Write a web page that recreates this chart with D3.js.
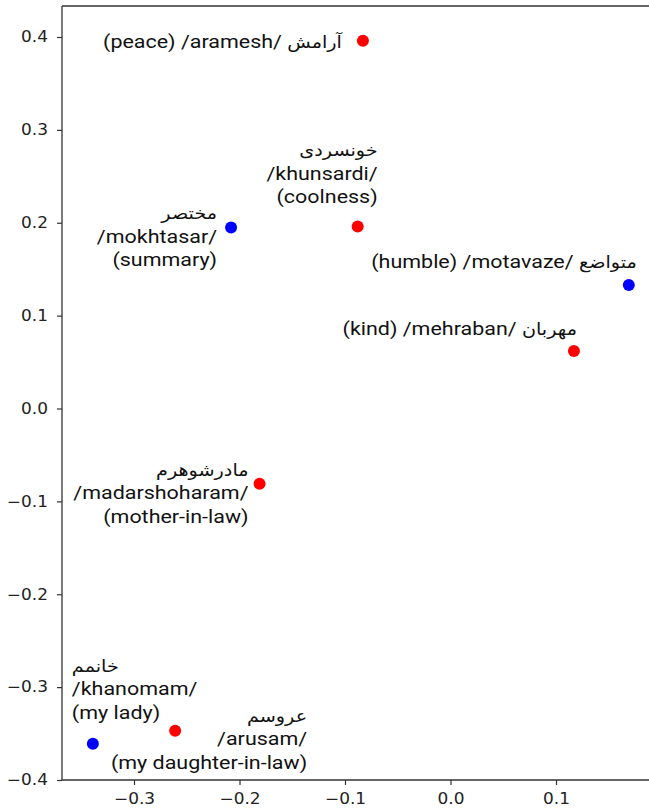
<!DOCTYPE html>
<html>
<head>
<meta charset="utf-8">
<script src="https://cdn.jsdelivr.net/npm/d3@7"></script>
<style>
    body { margin: 0; background: #fff; }
    svg { display: block; }
</style>
</head>
<body>
<svg id="chart"></svg>
<script>
// words and their 2d embedding coordinates
const persianWords = ["آرامش", "خونسردی", "مختصر", "متواضع", "مهربان", "مادرشوهرم", "عروسم", "خانمم"];
const translits = ["aramesh", "khunsardi", "mokhtasar", "motavaze", "mehraban", "madarshoharam", "arusam", "khanomam"];
const meanings = ["peace", "coolness", "summary", "humble", "kind", "mother-in-law", "my daughter-in-law", "my lady"];
const xValues = [-0.083, -0.088, -0.208, 0.169, 0.117, -0.181, -0.261, -0.339];
const yValues = [0.396, 0.196, 0.195, 0.133, 0.062, -0.081, -0.347, -0.361];
const groups = ["red", "red", "blue", "blue", "red", "red", "red", "blue"];

const xTicks = [-0.3, -0.2, -0.1, 0.0, 0.1];
const yTicks = [-0.4, -0.3, -0.2, -0.1, 0.0, 0.1, 0.2, 0.3, 0.4];

// where each label sits relative to its dot (px)
const labelLayout = [
    { dx: -21, dy: 7, anchor: "end", stacked: false },
    { dx: 20, dy: -70, anchor: "end", stacked: true },
    { dx: -14, dy: -8, anchor: "end", stacked: true },
    { dx: 8, dy: -17, anchor: "end", stacked: false },
    { dx: 3, dy: -16, anchor: "end", stacked: false },
    { dx: -11, dy: -8, anchor: "end", stacked: true },
    { dx: 132, dy: -9, anchor: "end", stacked: true },
    { dx: -21, dy: -72, anchor: "start", stacked: true }
];

const width = 649, height = 809;
const plotLeft = 62, plotTop = 6, plotRight = 649, plotBottom = 780;
const stretch = 1.13;  // the picture is a bit wider than tall, text too

const svg = d3.select("#chart").attr("width", width).attr("height", height);

const x = d3.scaleLinear().domain([-0.36825, 0.18815]).range([plotLeft, plotRight]);
const y = d3.scaleLinear().domain([-0.4, 0.43338]).range([plotBottom, plotTop]);

const fmt = d3.format(".1f");

const yAxis = svg.append("g")
    .attr("transform", `translate(${plotLeft},0)`)
    .call(d3.axisLeft(y).tickValues(yTicks).tickFormat(fmt).tickSize(5).tickPadding(9));
const xAxis = svg.append("g")
    .attr("transform", `translate(0,${plotBottom})`)
    .call(d3.axisBottom(x).tickValues(xTicks).tickFormat(fmt).tickSize(5).tickPadding(8));

[xAxis, yAxis].forEach(g => {
    g.select(".domain").remove();
    g.selectAll("line").attr("stroke", "#333").attr("stroke-width", 1.2);
    g.selectAll("text")
        .attr("fill", "#222")
        .style("font-family", "'DejaVu Sans', sans-serif")
        .style("font-size", "15px")
        .each(function () {
            const t = d3.select(this);
            const tx = +t.attr("x") || 0;
            t.attr("x", 0).attr("transform", `translate(${tx},0) scale(${stretch},1)`);
        });
});

// spines (no right one, the picture is cut there)
const spines = [
    [plotLeft, plotTop, plotLeft, plotBottom],
    [plotLeft, plotTop, plotRight, plotTop],
    [plotLeft, plotBottom, plotRight, plotBottom]
];
svg.append("g").selectAll("line")
    .data(spines)
    .enter()
    .append("line")
    .attr("x1", d => d[0]).attr("y1", d => d[1])
    .attr("x2", d => d[2]).attr("y2", d => d[3])
    .attr("stroke", "#333")
    .attr("stroke-width", 1.3);

const color = d3.scaleOrdinal().domain(["red", "blue"]).range(["#ff0000", "#0000ff"]);

const points = persianWords.map((w, i) => ({
    word: w, tr: translits[i], mean: meanings[i],
    x: xValues[i], y: yValues[i], group: groups[i], layout: labelLayout[i]
}));

svg.append("g").selectAll("circle")
    .data(points)
    .enter()
    .append("circle")
    .attr("cx", d => x(d.x))
    .attr("cy", d => y(d.y))
    .attr("r", 6)
    .attr("fill", d => color(d.group));

const lineH = 23.5;
const persianSize = "17px";
const labels = svg.append("g")
    .style("font-family", "Roboto, 'DejaVu Sans', sans-serif")
    .style("font-size", "19px")
    .attr("fill", "#111");

points.forEach(d => {
    const L = d.layout;
    const t = labels.append("text")
        .attr("text-anchor", L.anchor)
        .attr("transform", `translate(${x(d.x) + L.dx},${y(d.y) + L.dy}) scale(${stretch},1)`);
    if (L.stacked) {
        t.append("tspan").attr("x", 0).attr("dy", 0)
            .style("font-size", persianSize).text(d.word);
        t.append("tspan").attr("x", 0).attr("dy", lineH).text("/" + d.tr + "/");
        t.append("tspan").attr("x", 0).attr("dy", lineH).text("(" + d.mean + ")");
    } else {
        t.append("tspan").text("(" + d.mean + ") /" + d.tr + "/ ");
        t.append("tspan").style("font-size", persianSize).text(d.word);
    }
});
</script>
</body>
</html>
